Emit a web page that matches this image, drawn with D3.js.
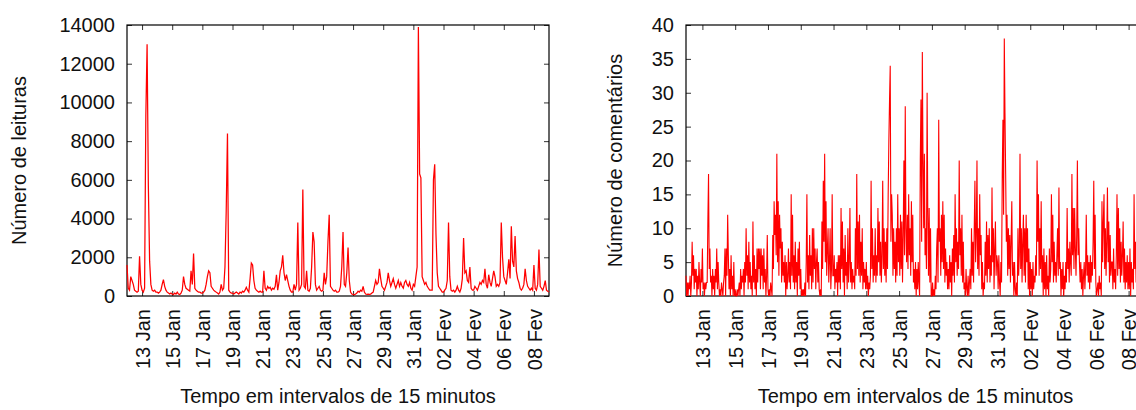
<!DOCTYPE html>
<html>
<head>
<meta charset="utf-8">
<script src="https://cdn.jsdelivr.net/npm/d3@7"></script>
<style>
body { margin: 0; background: #fff; }
svg { display: block; font-family: "Liberation Sans", Arial, sans-serif; }
</style>
</head>
<body>
<svg id="chart" width="1136" height="410"></svg>
<script>
// inicio da serie: 12 Jan, 00:00
var inicio = Date.UTC(2012, 0, 12);
var fim = Date.UTC(2012, 1, 9);

// leituras, uma amostra a cada 2 horas (12 por dia)
var passoLeituras = 2;
var leituras = [
    1600, 400, 300, 1000, 800, 600, 300, 250, 200, 250, 2050, 600,
    300, 200, 400, 9300, 13000, 5700, 1800, 600, 300, 250, 300, 200,
    200, 150, 200, 300, 600, 850, 500, 300, 200, 150, 100, 150,
    100, 80, 150, 100, 200, 100, 80, 150, 300, 1000, 600, 400,
    350, 300, 250, 1300, 600, 2200, 400, 300, 250, 200, 200, 150,
    150, 200, 300, 600, 1000, 1300, 1200, 500, 400, 300, 250, 200,
    150, 100, 200, 600, 300, 400, 1500, 4400, 8400, 300, 200, 150,
    150, 100, 150, 200, 150, 100, 200, 150, 250, 200, 300, 450,
    300, 200, 900, 1700, 1600, 800, 400, 300, 250, 200, 250, 200,
    200, 1300, 400, 300, 500, 400, 450, 300, 400, 350, 500, 1100,
    300, 700, 1300, 1500, 2100, 1200, 800, 1100, 800, 500, 300, 200,
    200, 600, 300, 600, 3800, 300, 400, 600, 5500, 500, 400, 1300,
    300, 250, 400, 1500, 3300, 2800, 600, 300, 400, 500, 300, 250,
    300, 1200, 600, 1000, 2800, 4200, 500, 400, 300, 250, 300, 200,
    200, 250, 500, 1500, 3300, 600, 500, 1200, 2500, 800, 200, 100,
    80, 60, 100, 150, 250, 200, 300, 250, 500, 200, 100, 80,
    100, 80, 100, 150, 200, 500, 800, 600, 700, 1400, 900, 500,
    400, 300, 500, 700, 1200, 800, 500, 700, 900, 600, 400, 600,
    800, 500, 700, 500, 400, 700, 800, 600, 500, 700, 400, 300,
    600, 500, 1000, 1500, 13900, 6300, 6100, 1000, 800, 600, 700, 500,
    400, 300, 300, 300, 6000, 6800, 3200, 1200, 500, 400, 300, 200,
    200, 300, 400, 800, 3800, 1000, 300, 250, 300, 200, 300, 500,
    300, 200, 400, 900, 3000, 1200, 1300, 800, 700, 1500, 400, 300,
    300, 500, 400, 300, 500, 700, 600, 800, 700, 1400, 600, 400,
    1100, 700, 500, 900, 1300, 1000, 500, 600, 500, 700, 3800, 2000,
    1000, 800, 600, 1200, 1900, 900, 3600, 1800, 1500, 3100, 1300, 900,
    700, 400, 300, 400, 600, 1400, 800, 500, 400, 300, 400, 300,
    1600, 400, 300, 600, 2400, 500, 400, 300, 500, 800, 300, 250,
    200
];

// comentarios, uma amostra por hora (24 por dia)
var passoComentarios = 1;
var comentarios = [
    3, 0, 2, 0, 2, 1, 3, 0, 2, 8, 3, 6, 1, 4, 2, 4, 0, 3, 1, 5, 2, 0, 4, 2,
    7, 1, 2, 0, 2, 1, 2, 2, 11, 18, 4, 7, 2, 3, 0, 4, 1, 3, 0, 4, 2, 7, 1, 5,
    2, 0, 1, 0, 2, 1, 0, 2, 3, 7, 0, 7, 3, 12, 6, 1, 4, 0, 6, 1, 3, 0, 5, 0,
    1, 0, 0, 1, 0, 1, 2, 0, 4, 1, 3, 2, 4, 0, 5, 2, 10, 3, 6, 1, 8, 2, 5, 1,
    3, 0, 11, 2, 6, 1, 4, 0, 7, 2, 7, 4, 7, 1, 7, 3, 6, 1, 7, 2, 4, 0, 3, 9,
    1, 0, 1, 0, 2, 1, 0, 9, 4, 14, 9, 12, 6, 21, 5, 14, 3, 12, 7, 10, 2, 8, 3, 5,
    2, 6, 0, 5, 1, 3, 7, 2, 5, 1, 15, 3, 12, 2, 6, 1, 8, 2, 5, 0, 7, 3, 8, 1,
    4, 0, 1, 0, 1, 0, 2, 0, 5, 15, 2, 6, 1, 9, 3, 6, 1, 10, 2, 10, 4, 7, 1, 5,
    7, 2, 5, 1, 0, 1, 0, 11, 4, 17, 8, 21, 5, 14, 3, 7, 10, 2, 5, 10, 1, 4, 15, 3,
    3, 6, 1, 4, 2, 5, 0, 6, 2, 6, 1, 13, 4, 11, 2, 7, 0, 9, 3, 5, 1, 10, 2, 5,
    13, 2, 5, 1, 4, 2, 3, 1, 10, 3, 18, 4, 11, 3, 12, 2, 8, 3, 10, 1, 5, 2, 4, 1,
    5, 1, 3, 0, 2, 1, 3, 17, 4, 10, 2, 6, 3, 10, 2, 6, 3, 13, 5, 11, 3, 8, 2, 6,
    17, 4, 10, 3, 8, 2, 10, 4, 15, 23, 29, 34, 8, 15, 12, 3, 10, 4, 8, 2, 10, 3, 15, 5,
    10, 3, 12, 4, 11, 2, 9, 20, 6, 28, 10, 5, 12, 4, 15, 6, 10, 3, 14, 5, 12, 2, 4, 1,
    5, 0, 4, 1, 5, 2, 0, 20, 29, 8, 36, 20, 10, 21, 6, 10, 4, 30, 12, 3, 13, 2, 10, 0,
    0, 2, 0, 1, 0, 3, 1, 7, 10, 2, 26, 8, 10, 3, 12, 5, 14, 4, 12, 2, 7, 3, 5, 1,
    4, 1, 6, 2, 5, 0, 7, 3, 9, 2, 15, 5, 10, 3, 8, 4, 20, 6, 10, 3, 12, 2, 8, 1,
    2, 0, 4, 1, 0, 3, 0, 2, 4, 1, 10, 3, 8, 2, 10, 17, 5, 9, 20, 4, 10, 3, 15, 6,
    9, 1, 5, 0, 2, 1, 8, 3, 11, 2, 9, 4, 10, 2, 6, 3, 16, 5, 10, 1, 7, 11, 3, 6,
    5, 1, 6, 2, 0, 5, 2, 18, 26, 12, 38, 27, 18, 8, 12, 3, 10, 4, 9, 2, 8, 14, 3, 5,
    0, 5, 1, 0, 2, 0, 10, 3, 6, 21, 4, 10, 2, 8, 12, 3, 10, 2, 12, 5, 10, 1, 7, 0,
    5, 1, 4, 0, 5, 1, 3, 2, 6, 3, 20, 8, 15, 3, 10, 4, 14, 2, 6, 0, 7, 1, 5, 0,
    6, 1, 3, 0, 7, 2, 4, 15, 5, 12, 2, 8, 3, 5, 2, 6, 10, 3, 16, 4, 5, 0, 4, 1,
    5, 0, 3, 1, 5, 2, 13, 4, 7, 2, 8, 5, 3, 18, 6, 13, 4, 13, 7, 3, 9, 20, 6, 10,
    5, 2, 5, 1, 4, 0, 3, 5, 1, 4, 12, 3, 6, 2, 5, 1, 6, 2, 5, 3, 8, 17, 4, 12,
    2, 0, 1, 2, 0, 3, 1, 2, 0, 14, 5, 11, 15, 4, 10, 3, 8, 16, 5, 11, 2, 9, 3, 5,
    5, 1, 7, 2, 4, 1, 6, 15, 3, 13, 4, 10, 2, 8, 3, 6, 11, 2, 7, 1, 5, 2, 6, 1,
    5, 1, 7, 0, 5, 2, 4, 1, 15, 4, 8, 2, 6, 1, 5, 2, 7, 0, 4, 1, 6, 2, 3, 0
];

// marcas do eixo x (a cada 2 dias)
var tickDatas = ["2012-01-13", "2012-01-15", "2012-01-17", "2012-01-19", "2012-01-21",
    "2012-01-23", "2012-01-25", "2012-01-27", "2012-01-29", "2012-01-31",
    "2012-02-02", "2012-02-04", "2012-02-06", "2012-02-08"];
var tickRotulos = ["13 Jan", "15 Jan", "17 Jan", "19 Jan", "21 Jan", "23 Jan", "25 Jan",
    "27 Jan", "29 Jan", "31 Jan", "02 Fev", "04 Fev", "06 Fev", "08 Fev"];

var ticksLeituras = [0, 2000, 4000, 6000, 8000, 10000, 12000, 14000];
var ticksComentarios = [0, 5, 10, 15, 20, 25, 30, 35, 40];

var tituloX = "Tempo em intervalos de 15 minutos";

var svg = d3.select("#chart");
var parseDia = d3.utcParse("%Y-%m-%d");
var datasTick = tickDatas.map(parseDia);

function painel(cfg) {
    var x = d3.scaleUtc().domain([new Date(inicio), new Date(fim)]).range([cfg.x0, cfg.x1]);
    var y = d3.scaleLinear().domain([0, cfg.ticks[cfg.ticks.length - 1]]).range([cfg.y1, cfg.y0]);
    var g = svg.append("g");

    // marcas nos quatro lados, viradas para dentro
    g.append("g").attr("transform", "translate(" + cfg.x0 + ",0)")
        .call(d3.axisLeft(y).tickValues(cfg.ticks).tickSizeInner(-5).tickSizeOuter(0)
            .tickPadding(12).tickFormat(d3.format("d")))
        .call(eixo);
    g.append("g").attr("transform", "translate(" + cfg.x1 + ",0)")
        .call(d3.axisRight(y).tickValues(cfg.ticks).tickSizeInner(-5).tickSizeOuter(0).tickFormat(""))
        .call(eixo);
    g.append("g").attr("transform", "translate(0," + cfg.y0 + ")")
        .call(d3.axisTop(x).tickValues(datasTick).tickSizeInner(-5).tickSizeOuter(0).tickFormat(""))
        .call(eixo);
    var eixoX = g.append("g").attr("transform", "translate(0," + cfg.y1 + ")")
        .call(d3.axisBottom(x).tickValues(datasTick).tickSizeInner(-5).tickSizeOuter(0)
            .tickFormat(function(d, i) { return tickRotulos[i]; }))
        .call(eixo);
    eixoX.selectAll("text")
        .attr("transform", "rotate(-90)")
        .attr("text-anchor", "end")
        .attr("x", -13)
        .attr("y", 0)
        .attr("dy", "0.36em");

    g.append("rect")
        .attr("x", cfg.x0).attr("y", cfg.y0)
        .attr("width", cfg.x1 - cfg.x0).attr("height", cfg.y1 - cfg.y0)
        .attr("fill", "none").attr("stroke", "#000").attr("stroke-width", 1.2);

    var linha = d3.line()
        .x(function(v, i) { return x(new Date(inicio + i * cfg.passo * 3600000)); })
        .y(function(v) { return y(v); });
    g.append("path")
        .datum(cfg.dados)
        .attr("d", linha)
        .attr("fill", "none")
        .attr("stroke", "#ff0000")
        .attr("stroke-width", cfg.espessura)
        .attr("stroke-linejoin", "miter");

    g.append("text")
        .attr("transform", "translate(" + cfg.labelX + "," + ((cfg.y0 + cfg.y1) / 2) + ") rotate(-90)")
        .attr("text-anchor", "middle")
        .attr("dy", "0.35em")
        .attr("font-size", 20)
        .attr("fill", "#111")
        .text(cfg.tituloY);

    g.append("text")
        .attr("x", (cfg.x0 + cfg.x1) / 2)
        .attr("y", 403)
        .attr("text-anchor", "middle")
        .attr("font-size", 20)
        .attr("fill", "#111")
        .text(tituloX);
}

function eixo(sel) {
    sel.select(".domain").remove();
    sel.selectAll("line").attr("stroke", "#333").attr("stroke-width", 1);
    sel.selectAll("text")
        .attr("font-size", 20)
        .attr("font-family", "Liberation Sans, Arial, sans-serif")
        .attr("fill", "#111");
}

painel({
    x0: 127, x1: 549, y0: 25, y1: 296,
    ticks: ticksLeituras, dados: leituras, passo: passoLeituras, espessura: 1.25,
    tituloY: "Número de leituras", labelX: 19
});

painel({
    x0: 686, x1: 1145, y0: 25, y1: 296,
    ticks: ticksComentarios, dados: comentarios, passo: passoComentarios, espessura: 1.1,
    tituloY: "Número de comentários", labelX: 615
});
</script>
</body>
</html>
